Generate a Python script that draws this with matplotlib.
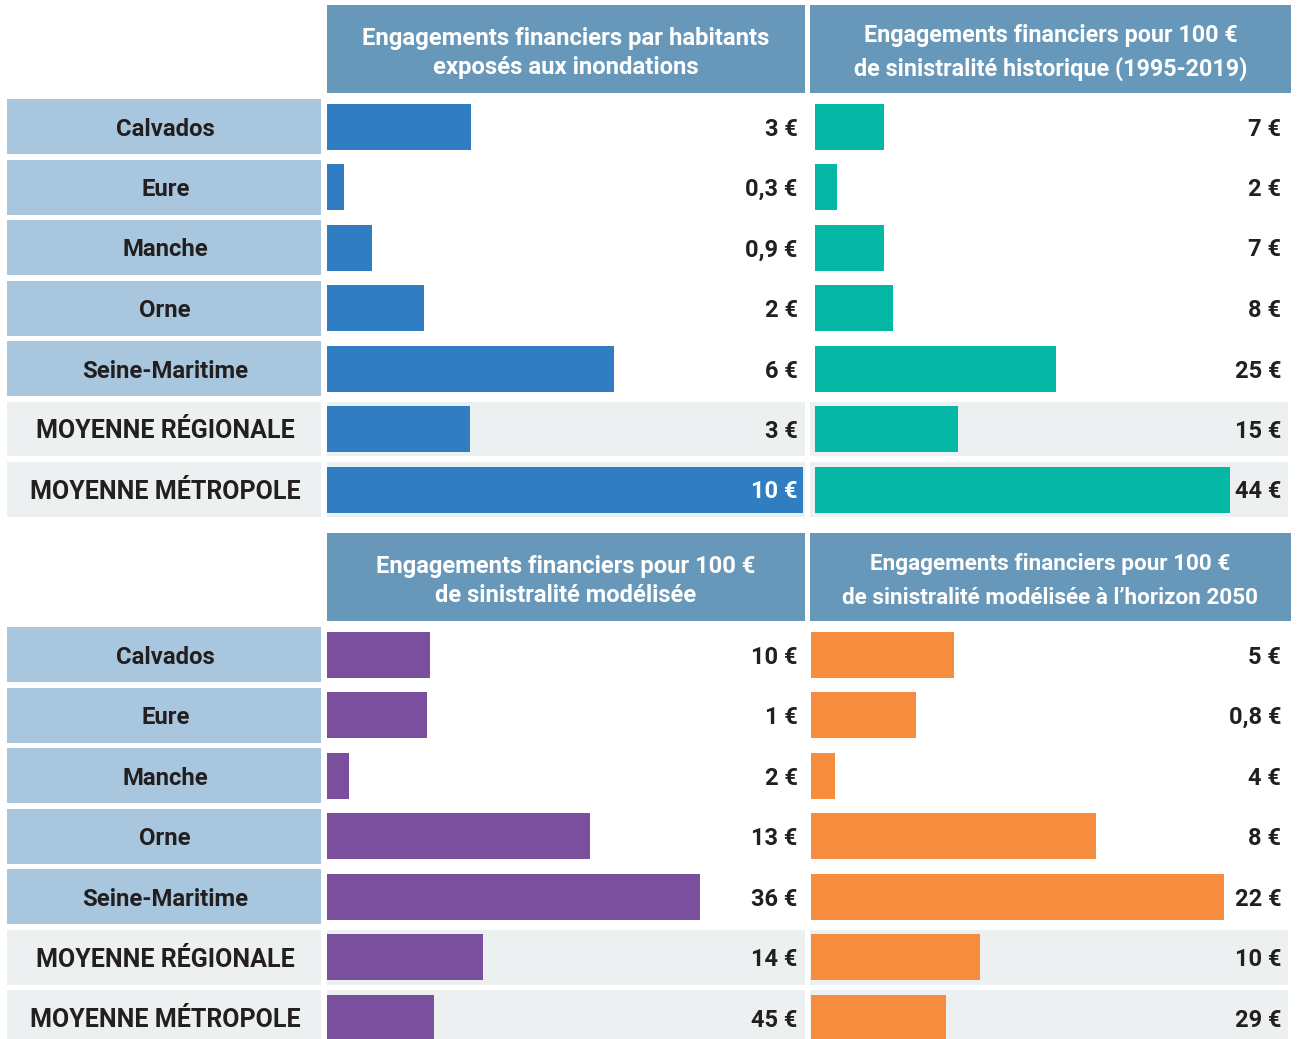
import numpy as np
import matplotlib
matplotlib.use("Agg")
import matplotlib.pyplot as plt
from matplotlib import transforms

plt.rcParams['font.family'] = ['Roboto', 'DejaVu Sans']

# Data
rows = ['Calvados', 'Eure', 'Manche', 'Orne', 'Seine-Maritime',
        'MOYENNE RÉGIONALE', 'MOYENNE MÉTROPOLE']
is_average = [False, False, False, False, False, True, True]

titles = [
    "Engagements financiers par habitants\nexposés aux inondations",
    "Engagements financiers pour 100 €\nde sinistralité historique (1995-2019)",
    "Engagements financiers pour 100 €\nde sinistralité modélisée",
    "Engagements financiers pour 100 €\nde sinistralité modélisée à l’horizon 2050",
]
# printed values
labels_hab = ['3 €', '0,3 €', '0,9 €', '2 €', '6 €', '3 €', '10 €']
labels_hist = ['7 €', '2 €', '7 €', '8 €', '25 €', '15 €', '44 €']
labels_mod = ['10 €', '1 €', '2 €', '13 €', '36 €', '14 €', '45 €']
labels_2050 = ['5 €', '0,8 €', '4 €', '8 €', '22 €', '10 €', '29 €']
# bar lengths as drawn in the original (€ on each panel's own scale)
bars_hab = [3.03, 0.36, 0.95, 2.04, 6.03, 3.0, 10.0]
bars_hist = [7.3, 2.3, 7.3, 8.3, 25.5, 15.1, 44.0]
bars_mod = [9.9, 9.6, 2.1, 25.4, 36.0, 15.0, 10.3]
bars_2050 = [7.6, 5.6, 1.3, 15.2, 22.0, 9.0, 7.2]

colors = ['#317dc1', '#04b8a5', '#7a509d', '#f68d3e']
header_col = '#6898b9'
label_col = '#a8c7de'
grey_col = '#edf0f1'
text_col = '#231f20'

W, H = 1299, 1039
fig = plt.figure(figsize=(W / 100, H / 100), dpi=100)


def box(x0, y0, x1, y1):
    return [x0 / W, 1 - y1 / H, (x1 - x0) / W, (y1 - y0) / H]


def clean(ax):
    ax.set_xticks([])
    ax.set_yticks([])
    for s in ax.spines.values():
        s.set_visible(False)


panels = [
    # title, labels, bars, color, x-range px, header y px, title line y px, rows top px, xlim, title size
    (titles[0], labels_hab, bars_hab, colors[0], (327, 805), (5, 93), (36, 65), 96.25, (0, 10.04), 17.2),
    (titles[1], labels_hist, bars_hist, colors[1], (810, 1288), (5, 93), (33, 66), 96.25, (-0.53, 50.1), 16.8),
    (titles[2], labels_mod, bars_mod, colors[2], (327, 805), (533, 621), (564, 593), 624.25, (0, 46.1), 17.1),
    (titles[3], labels_2050, bars_2050, colors[3], (810, 1288), (533, 621), (561, 595), 624.25, (-0.05, 25.4), 16.2),
]

pitch = 60.5
cell_h = 55 / pitch
bar_h = 46 / pitch
y = np.arange(len(rows))

# row label columns
for top in (96.25, 624.25):
    ax = fig.add_axes(box(7, top, 321, top + pitch * len(rows)))
    ax.set_xlim(0, 1)
    ax.set_ylim(len(rows) - 0.5, -0.5)
    ax.set_facecolor('none')
    clean(ax)
    for i, name in enumerate(rows):
        c = grey_col if is_average[i] else label_col
        ax.axhspan(i - cell_h / 2, i + cell_h / 2, color=c, lw=0)
        ax.text(0.504, i, name, ha='center', va='center_baseline',
                fontsize=18 if is_average[i] else 17.2,
                fontweight='bold', color=text_col)

for title, labs, vals, col, (x0, x1), (h0, h1), line_y, top, xl, tsize in panels:
    # header
    hx1 = 1291 if x0 > 800 else x1
    hax = fig.add_axes(box(x0, h0, hx1, h1))
    hax.set_facecolor(header_col)
    clean(hax)
    hax.set_xlim(0, 1)
    hax.set_ylim(h1, h0)
    for line, ly in zip(title.split('\n'), line_y):
        hax.text(0.5, ly, line, ha='center', va='center_baseline', color='white',
                 fontsize=tsize, fontweight='bold')

    # bars
    ax = fig.add_axes(box(x0, top, x1, top + pitch * len(rows)))
    ax.set_facecolor('none')
    clean(ax)
    ax.set_xlim(*xl)
    ax.set_ylim(len(rows) - 0.5, -0.5)
    for i in range(len(rows)):
        if is_average[i]:
            ax.axhspan(i - cell_h / 2, i + cell_h / 2, color=grey_col, lw=0, zorder=0)
    ax.barh(y, vals, height=bar_h, color=col, zorder=2)
    trans = transforms.blended_transform_factory(ax.transAxes, ax.transData)
    xt = 0.985 if x0 < 800 else 0.986
    for i, (v, s) in enumerate(zip(vals, labs)):
        frac = (v - xl[0]) / (xl[1] - xl[0])
        tc = 'white' if frac > 0.95 else text_col
        ax.text(xt, i, s, ha='right', va='center_baseline', transform=trans, fontsize=17,
                fontweight='bold', color=tc, zorder=3)

fig.savefig('out.png', dpi=100)
